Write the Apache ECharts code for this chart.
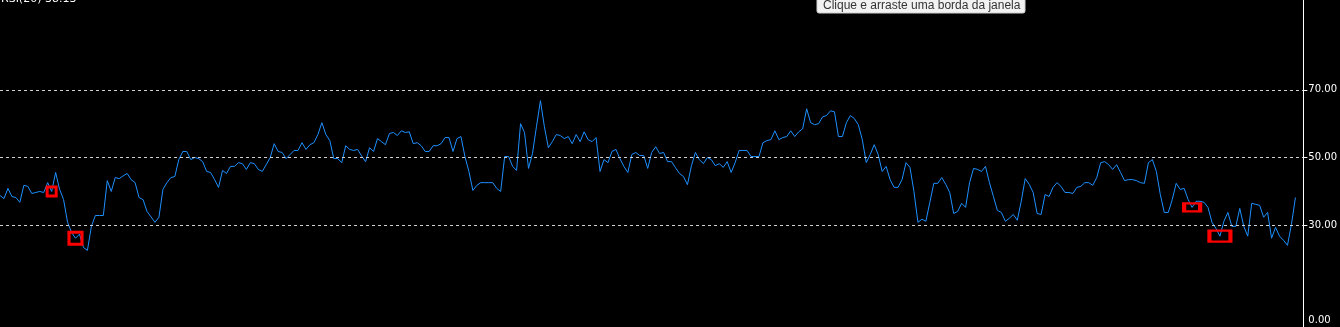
<!DOCTYPE html>
<html>
<head>
<meta charset="utf-8">
<script src="https://cdn.jsdelivr.net/npm/echarts@6/dist/echarts.min.js"></script>
<style>
html,body{margin:0;padding:0;background:#000;}
#c{width:1340px;height:327px;}
</style>
</head>
<body>
<div id="c"></div>
<script>
// RSI(20) values, one per bar
const rsiValues = [
38.8,37.9,40.9,38.5,38.2,36.8,41.8,41.5,39.4,39.7,
40.0,39.7,42.6,40.0,45.6,40.6,37.6,30.9,27.9,26.2,
27.4,23.5,22.6,29.7,32.9,32.9,32.9,43.2,40.0,44.1,
43.8,44.6,45.3,43.5,42.6,38.2,37.6,34.1,32.5,30.9,
32.4,40.6,42.6,44.1,44.4,49.4,51.8,51.8,49.4,50.0,
49.7,48.8,45.9,45.6,43.5,41.2,46.2,45.3,47.4,47.4,
48.5,48.2,46.5,48.5,48.2,46.5,45.9,47.9,50.0,54.1,
51.8,51.5,49.7,50.9,52.1,52.1,54.4,52.4,53.8,54.4,
56.8,60.3,56.8,55.0,49.7,49.7,48.5,53.5,52.4,52.1,
52.4,50.5,48.8,52.9,51.8,55.6,54.7,53.8,57.1,57.4,
56.5,57.9,57.4,57.6,54.1,54.4,53.5,51.8,51.8,53.5,
53.5,54.1,55.9,55.9,51.8,55.6,56.2,50.3,45.9,40.3,
41.8,42.6,42.6,42.6,42.6,40.9,40.0,50.3,50.3,47.4,
46.2,60.0,57.4,46.8,51.2,59.1,66.8,59.1,52.9,54.7,
56.8,56.5,55.6,56.2,54.1,56.8,54.7,57.6,55.3,54.7,
55.9,45.9,49.4,48.5,51.8,52.4,49.7,47.4,45.6,50.9,
51.5,50.6,50.6,46.8,51.5,53.2,51.2,51.5,48.8,48.8,
47.0,45.3,44.4,42.0,47.6,51.5,49.4,48.2,50.0,49.4,
47.6,48.2,47.1,48.8,45.6,48.5,52.1,52.1,52.1,50.3,
50.3,50.3,54.4,55.0,55.3,57.9,55.3,55.9,56.2,57.9,
56.2,57.6,58.5,64.4,60.3,59.7,60.0,62.0,62.4,63.8,
63.5,56.2,56.2,60.3,62.4,61.5,59.7,55.3,48.5,50.9,
53.8,50.9,45.9,47.4,43.5,41.2,41.2,43.5,48.5,47.1,
40.0,30.9,31.8,31.2,36.8,42.4,42.4,44.1,42.1,39.7,
33.5,34.1,36.5,35.3,42.6,46.8,46.5,45.9,47.4,42.6,
38.5,34.4,33.8,31.2,32.1,33.2,31.5,37.1,43.8,42.1,
39.7,33.5,33.2,39.1,38.5,41.2,42.6,41.5,39.7,39.7,
39.4,41.2,41.5,42.6,42.6,41.8,44.1,48.5,48.8,47.9,
46.5,47.9,45.6,43.2,43.5,43.5,43.2,42.6,42.4,48.5,
49.4,45.9,39.1,33.8,33.8,37.6,42.4,40.6,40.9,37.6,
35.3,37.1,37.1,36.8,35.3,30.9,29.1,26.8,31.2,33.8,
29.7,29.7,35.0,29.7,26.8,36.5,36.2,35.9,32.4,33.8,
26.2,29.4,26.8,25.6,24.1,30.3,38.2,
null,null
];
const categories = rsiValues.map((_, i) => String(i + 1));
const levelLines = [30, 50, 70];
const tickValues = [0, 30, 50, 70];
// bars marked with red boxes: [bar index, value]
const markedBars = [[13, 40.0], [19, 26.2], [300, 35.3], [307, 26.8]];
const markedSizes = [[9, 9], [13, 12], [16, 8], [21, 11]];
const indicatorLabel = 'RSI(20) 38.13';
const hintText = 'Clique e arraste uma borda da janela';

const chart = echarts.init(document.getElementById('c'), null, {renderer: 'canvas'});
chart.setOption({
  backgroundColor: '#000000',
  animation: false,
  grid: {left: 0, right: 35, top: 0, bottom: -1, containLabel: false},
  xAxis: {
    type: 'category', data: categories, boundaryGap: false,
    axisLine: {show: false}, axisTick: {show: false}, axisLabel: {show: false}, splitLine: {show: false}
  },
  yAxis: {
    type: 'value', position: 'right', min: 0, max: 96.5,
    axisLine: {show: true, lineStyle: {color: '#ffffff', width: 1}},
    axisTick: {show: true, inside: false, length: 4, customValues: tickValues, lineStyle: {color: '#ffffff'}},
    axisLabel: {
      show: true, customValues: tickValues, margin: 5, color: '#ffffff',
      fontFamily: 'DejaVu Sans', fontSize: 10,
      formatter: function (v) { return v === 0 ? '{b|0.00}' : v.toFixed(2); },
      rich: {b: {color: '#ffffff', fontFamily: 'DejaVu Sans', fontSize: 10, padding: [0, 0, 14, 0]}}
    },
    splitLine: {show: false}
  },
  series: [{
    type: 'line', data: rsiValues, showSymbol: false, symbol: 'none',
    lineStyle: {color: '#1e90ff', width: 1}, connectNulls: false,
    markLine: {
      silent: true, symbol: ['none', 'none'], label: {show: false},
      lineStyle: {color: '#d0d0d0', type: [3, 3], width: 1},
      data: levelLines.map(v => ({yAxis: v}))
    },
    markPoint: {
      silent: true,
      label: {show: false},
      data: markedBars.map((m, i) => ({
        coord: [m[0], m[1]], symbol: 'rect', symbolSize: markedSizes[i],
        itemStyle: {color: 'rgba(0,0,0,0)', borderColor: '#ff0000', borderWidth: 3}
      }))
    }
  }],
  graphic: [
    {type: 'text', x: 1, y: -6, style: {text: indicatorLabel, fill: '#ffffff', font: '11px "DejaVu Sans"'}},
    {type: 'rect', shape: {x: 817, y: -4, width: 208, height: 17, r: 2}, style: {fill: '#f2f2f2', stroke: '#d0d0d0', lineWidth: 1}},
    {type: 'text', x: 823, y: 0, style: {text: hintText, fill: '#333333', font: '12px "Liberation Sans"', textVerticalAlign: 'top'}}
  ]
});
</script>
</body>
</html>
